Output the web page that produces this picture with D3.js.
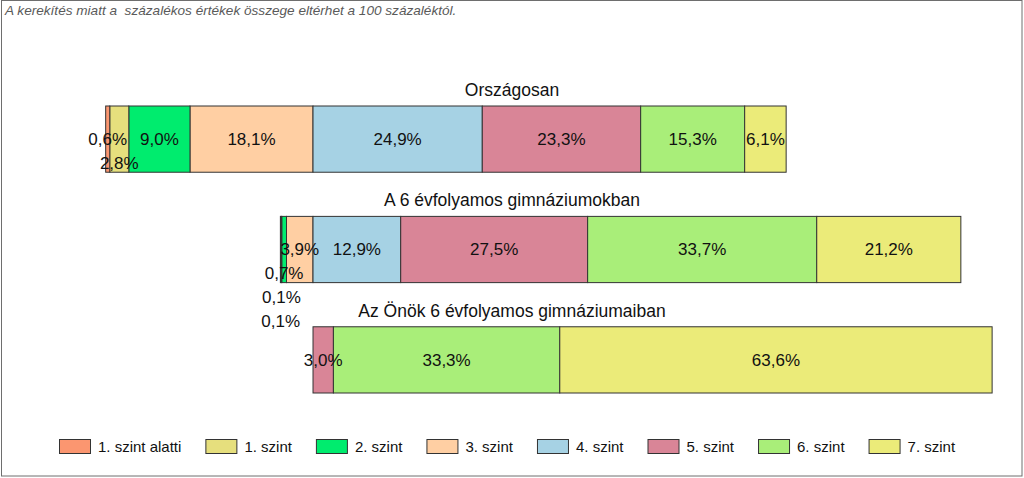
<!DOCTYPE html>
<meta charset="utf-8">
<style>
    body {
        margin: 0;
        background: #fff;
        font-family: "Liberation Sans", Arial, sans-serif;
    }
</style>
<body>
<script src="https://cdn.jsdelivr.net/npm/d3@7"></script>
<script>

// groups (one bar each)
var categories = ["Országosan", "A 6 évfolyamos gimnáziumokban", "Az Önök 6 évfolyamos gimnáziumaiban"];
var levels = ["1. szint alatti", "1. szint", "2. szint", "3. szint", "4. szint", "5. szint", "6. szint", "7. szint"];
var colors = ["#fb9670", "#e6df7d", "#00ec6e", "#ffcfa3", "#a6d2e4", "#d98597", "#a9ee79", "#ebeb79"];

// percentages per level, one value per group
var szint0 = [0.6, 0.1, 0.0];
var szint1 = [2.8, 0.1, 0.0];
var szint2 = [9.0, 0.7, 0.0];
var szint3 = [18.1, 3.9, 0.0];
var szint4 = [24.9, 12.9, 0.0];
var szint5 = [23.3, 27.5, 3.0];
var szint6 = [15.3, 33.7, 33.3];
var szint7 = [6.1, 21.2, 63.6];
var series = [szint0, szint1, szint2, szint3, szint4, szint5, szint6, szint7];

var note = "A kerekítés miatt a  százalékos értékek összege eltérhet a 100 százaléktól.";

var width = 1024, height = 478;

var svg = d3.select("body").append("svg")
    .attr("width", width)
    .attr("height", height);

// frame
svg.append("rect")
    .attr("x", 1.5).attr("y", 0.5)
    .attr("width", width - 3.5).attr("height", height - 2.5)
    .style("fill", "#fff")
    .style("stroke", "#6e6e6e");

svg.append("text")
    .attr("x", 5).attr("y", 15)
    .attr("xml:space", "preserve")
    .style("white-space", "pre")
    .style("font-size", "13.6px")
    .style("font-style", "italic")
    .style("fill", "#5a5a5a")
    .text(note);

// diverging: levels 0-3 to the left of zero, 4-7 to the right
var x = d3.scaleLinear()
    .domain([-40, 100])
    .range([41.1, 992.8]);

var y = d3.scaleBand()
    .domain(categories)
    .range([106, 393])
    .paddingInner(0.4);

var fmt = function(v) { return d3.format(".1f")(v).replace(".", ",") + "%"; };

var segs = [];
categories.forEach(function(c, i) {
  var acc = 0;
  [3, 2, 1, 0].forEach(function(k) {
    var v = series[k][i];
    segs.push({cat: c, k: k, v: v, x0: -(acc + v), x1: -acc});
    acc += v;
  });
  acc = 0;
  [4, 5, 6, 7].forEach(function(k) {
    var v = series[k][i];
    segs.push({cat: c, k: k, v: v, x0: acc, x1: acc + v});
    acc += v;
  });
});

// titles
svg.selectAll(".title")
    .data(categories)
  .enter().append("text")
    .attr("class", "title")
    .attr("x", 512)
    .attr("y", function(d) { return y(d) - 10; })
    .attr("text-anchor", "middle")
    .style("font-size", "17.5px")
    .style("fill", "#111")
    .text(function(d) { return d; });

svg.selectAll(".seg")
    .data(segs.filter(function(d) { return d.v > 0; }))
  .enter().append("rect")
    .attr("class", "seg")
    .attr("x", function(d) { return x(d.x0); })
    .attr("y", function(d) { return y(d.cat); })
    .attr("width", function(d) { return x(d.x1) - x(d.x0); })
    .attr("height", y.bandwidth())
    .style("fill", function(d) { return colors[d.k]; })
    .style("stroke", "#333")
    .style("stroke-width", 1);

// labels: placed from zero outward, pushed down a row when they collide
var labels = svg.selectAll(".lab")
    .data(segs.filter(function(d) { return d.v > 0; }))
  .enter().append("text")
    .attr("class", "lab")
    .attr("text-anchor", "middle")
    .attr("dy", "0.35em")
    .style("font-size", "17px")
    .style("fill", "#111")
    .text(function(d) { return fmt(d.v); });

var placed = {};
labels.each(function(d) {
  var cx = x((d.x0 + d.x1) / 2);
  var w = this.getComputedTextLength();
  var box = {l: cx - w / 2, r: cx + w / 2};
  var list = placed[d.cat] || (placed[d.cat] = []);
  var row = 0;
  while (list.some(function(p) { return p.row === row && box.l < p.r + 3 && box.r + 3 > p.l; })) row++;
  box.row = row;
  list.push(box);
  d3.select(this)
      .attr("x", cx)
      .attr("y", y(d.cat) + y.bandwidth() / 2 + row * 24);
});

// legend
var lx = 59;
var leg = svg.append("g").attr("transform", "translate(0,439)");
levels.forEach(function(l, i) {
  var g = leg.append("g").attr("transform", "translate(" + lx + ",0)");
  g.append("rect")
      .attr("x", 0.5).attr("y", 0.5)
      .attr("width", 31).attr("height", 14)
      .style("fill", colors[i])
      .style("stroke", "#333");
  var t = g.append("text")
      .attr("x", 39).attr("y", 13)
      .style("font-size", "15px")
      .style("fill", "#111")
      .text(l);
  lx += 39 + t.node().getComputedTextLength() + 24;
});

</script>
</body>
